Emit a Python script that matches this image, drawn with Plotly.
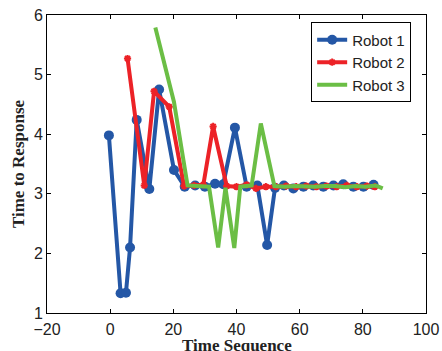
import plotly.graph_objects as go

r1_x = [-0.4, 3.3, 5.0, 6.3, 8.4, 12.4, 15.5, 20.2, 23.6, 26.9, 30.0, 33.2, 35.8, 39.5, 43.2,
        46.6, 49.7, 52.2, 55.0, 58.0, 61.2, 64.3, 67.5, 70.7, 73.8, 77.0, 80.2, 83.4]
r1_y = [3.98, 1.33, 1.34, 2.10, 4.24, 3.08, 4.75, 3.40, 3.12, 3.14, 3.12, 3.17, 3.16, 4.11, 3.12,
        3.14, 2.14, 3.10, 3.14, 3.09, 3.12, 3.14, 3.12, 3.14, 3.16, 3.12, 3.12, 3.15]

r2_x = [5.5, 10.8, 13.9, 18.7, 23.4, 26.6, 29.5, 32.6, 36.9, 40.0, 43.2, 46.2, 49.3, 52.5,
        55.7, 58.9, 62.1, 65.3, 68.5, 71.7, 74.9, 78.1, 81.3, 83.8]
r2_y = [5.27, 3.14, 4.72, 4.46, 3.13, 3.14, 3.15, 4.13, 3.13, 3.12, 3.15, 3.09, 3.12, 3.12,
        3.13, 3.12, 3.13, 3.12, 3.13, 3.12, 3.14, 3.12, 3.13, 3.12]

r3_x = [14.3, 20.2, 24.5, 31.3, 34.2, 36.5, 39.3, 41.2, 44.8, 47.7, 52.0, 55.2, 58.4, 61.6,
        64.8, 68.0, 71.2, 74.4, 77.6, 80.8, 84.0, 86.3]
r3_y = [5.79, 4.54, 3.14, 3.12, 2.10, 3.10, 2.09, 3.12, 3.14, 4.18, 3.13, 3.12, 3.13, 3.12,
        3.12, 3.13, 3.13, 3.11, 3.13, 3.12, 3.14, 3.09]

x_ticks = [-20, 0, 20, 40, 60, 80, 100]
y_ticks = [1, 2, 3, 4, 5, 6]
x_title = "Time Sequence"
y_title = "Time to Response"

BLUE = "#2457A6"
RED = "#EC2227"
GREEN = "#6BBE45"
TITLE_FONT = dict(family="Liberation Serif, Times New Roman", size=17, color="#222", weight="bold")

fig = go.Figure()
fig.add_trace(go.Scatter(x=r1_x, y=r1_y, name="Robot 1", mode="lines+markers",
                         line=dict(color=BLUE, width=4),
                         marker=dict(symbol="circle", size=10, color=BLUE)))
fig.add_trace(go.Scatter(x=r2_x, y=r2_y, name="Robot 2", mode="lines+markers",
                         line=dict(color=RED, width=4),
                         marker=dict(symbol="asterisk-open", size=6, color=RED,
                                     line=dict(color=RED, width=2))))
fig.add_trace(go.Scatter(x=r3_x, y=r3_y, name="Robot 3", mode="lines",
                         line=dict(color=GREEN, width=4)))

axis_common = dict(showgrid=False, zeroline=False, showline=True, linecolor="black",
                   linewidth=1, mirror="ticks", ticks="inside", ticklen=4,
                   tickcolor="black", tickwidth=1, automargin=False,
                   tickfont=dict(family="Liberation Sans, Arial", size=16, color="#222"))

fig.update_xaxes(range=[-20, 100], tickvals=x_ticks, ticklabelstandoff=2, **axis_common)
fig.update_yaxes(range=[1, 6], tickvals=y_ticks,
                 title=dict(text=y_title, standoff=4, font=TITLE_FONT),
                 **axis_common)

fig.add_annotation(text=x_title, xref="paper", yref="paper", x=0.5, y=-0.108,
                   xanchor="center", yanchor="middle", showarrow=False, font=TITLE_FONT)

fig.update_layout(
    width=442, height=351,
    margin=dict(l=47, r=16, t=15, b=38, autoexpand=False),
    paper_bgcolor="white", plot_bgcolor="white",
    showlegend=True,
    legend=dict(x=0.697, y=0.975, xanchor="left", yanchor="top",
                bordercolor="black", borderwidth=1, bgcolor="white",
                font=dict(family="Liberation Sans, Arial", size=15, color="#222"),
                tracegroupgap=0, itemwidth=30),
)

fig.write_html("out.html", config={"displayModeBar": False},
               post_script="document.body.style.margin='0';document.body.style.overflow='hidden';")
